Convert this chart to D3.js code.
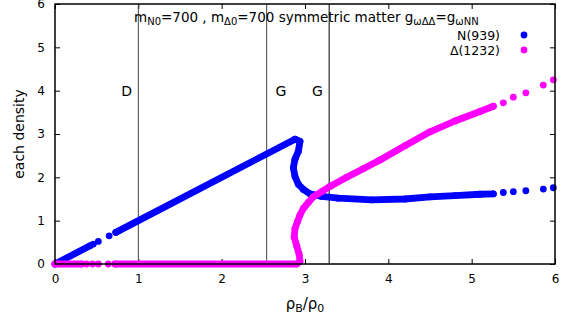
<!DOCTYPE html>
<html>
<head>
<meta charset="utf-8">
<script src="https://cdn.jsdelivr.net/npm/d3@7"></script>
<style>
  body { margin: 0; background: #fff; }
  text { font-family: "DejaVu Sans", sans-serif; fill: #000; }
</style>
</head>
<body>
<div id="chart"></div>
<script>
// points, grouped in runs of dense dots
var nucleonRuns = [
  [[0, 0], [0.42, 0.42]],
  [[0.46, 0.46]], [[0.52, 0.52]], [[0.65, 0.65]],
  [[0.73, 0.73], [2.88, 2.88], [2.94, 2.83], [2.92, 2.6], [2.88, 2.42], [2.86, 2.22],
   [2.88, 2.02], [2.92, 1.84], [2.98, 1.72], [3.06, 1.62], [3.2, 1.56], [3.4, 1.52],
   [3.8, 1.48], [4.2, 1.5], [4.5, 1.55], [4.8, 1.58], [5.1, 1.61], [5.26, 1.62]],
  [[5.38, 1.65]], [[5.5, 1.67]], [[5.65, 1.69]], [[5.86, 1.73]], [[5.98, 1.76]]
];
var deltaRuns = [
  [[0, 0], [0.32, 0]],
  [[0.38, 0]], [[0.45, 0]], [[0.52, 0]], [[0.64, 0]],
  [[0.72, 0], [2.9, 0], [2.94, 0.06], [2.93, 0.22], [2.9, 0.42], [2.87, 0.62],
   [2.88, 0.82], [2.91, 0.98], [2.94, 1.13], [2.98, 1.28], [3.04, 1.42], [3.1, 1.55],
   [3.2, 1.67], [3.3, 1.79], [3.5, 2.0], [3.7, 2.2], [3.9, 2.4], [4.2, 2.73],
   [4.5, 3.05], [4.8, 3.3], [5.1, 3.52], [5.26, 3.64]],
  [[5.38, 3.72]], [[5.5, 3.85]], [[5.65, 3.95]], [[5.86, 4.13]], [[5.98, 4.25]]
];
var markers = [1.0, 2.54, 3.29];
var markerLabels = [{x: 0.86, text: "D"}, {x: 2.71, text: "G"}, {x: 3.15, text: "G"}];
var xTicks = [0, 1, 2, 3, 4, 5, 6];
var yTicks = [0, 1, 2, 3, 4, 5, 6];
var seriesNames = ["N(939)", "\u0394(1232)"];
var seriesColors = ["#0000ff", "#ff00ff"];

var W = 565, H = 324;
var margin = {top: 4, right: 10, bottom: 60, left: 55};

var svg = d3.select("#chart").append("svg")
  .attr("width", W).attr("height", H);

var x = d3.scaleLinear().domain([0, 6]).range([margin.left, W - margin.right]);
var y = d3.scaleLinear().domain([0, 6]).range([H - margin.bottom, margin.top]);
var fmt = d3.format("d");

// ticks on all four sides, pointing in
svg.append("g").attr("transform", `translate(0,${y(0)})`)
  .call(d3.axisBottom(x).tickValues(xTicks).tickFormat(fmt).tickSizeInner(-5).tickSizeOuter(0).tickPadding(10))
  .call(g => g.select(".domain").remove());
svg.append("g").attr("transform", `translate(0,${y(6)})`)
  .call(d3.axisTop(x).tickValues(xTicks).tickSizeInner(-5).tickSizeOuter(0).tickFormat(""))
  .call(g => g.select(".domain").remove());
svg.append("g").attr("transform", `translate(${x(0)},0)`)
  .call(d3.axisLeft(y).tickValues(yTicks).tickFormat(fmt).tickSizeInner(-5).tickSizeOuter(0).tickPadding(10))
  .call(g => g.select(".domain").remove());
svg.append("g").attr("transform", `translate(${x(6)},0)`)
  .call(d3.axisRight(y).tickValues(yTicks).tickSizeInner(-5).tickSizeOuter(0).tickFormat(""))
  .call(g => g.select(".domain").remove());
svg.selectAll(".tick text").attr("font-size", 12).attr("font-family", "DejaVu Sans");

// vertical phase lines
svg.selectAll(".vline").data(markers).join("line")
  .attr("class", "vline")
  .attr("x1", d => x(d)).attr("x2", d => x(d))
  .attr("y1", y(0)).attr("y2", y(6))
  .attr("stroke", (d, i) => i < 2 ? "#444" : "#000")
  .attr("stroke-width", 1);
svg.selectAll(".vlabel").data(markerLabels).join("text")
  .attr("class", "vlabel")
  .attr("x", d => x(d.x)).attr("y", y(4) + 5)
  .attr("text-anchor", "middle").attr("font-size", 14)
  .text(d => d.text);

var line = d3.line().x(d => x(d[0])).y(d => y(d[1]));
var R = 3.4;

function drawSeries(runs, color) {
  var g = svg.append("g");
  g.selectAll("path").data(runs.filter(r => r.length > 1)).join("path")
    .attr("d", line)
    .attr("fill", "none").attr("stroke", color)
    .attr("stroke-width", 2 * R)
    .attr("stroke-linecap", "round").attr("stroke-linejoin", "round");
  g.selectAll("circle").data(runs.flat()).join("circle")
    .attr("cx", d => x(d[0])).attr("cy", d => y(d[1]))
    .attr("r", R).attr("fill", color);
}
drawSeries(nucleonRuns, seriesColors[0]);
drawSeries(deltaRuns, seriesColors[1]);

// frame
svg.append("rect")
  .attr("x", x(0)).attr("y", y(6))
  .attr("width", x(6) - x(0)).attr("height", y(0) - y(6))
  .attr("fill", "none").attr("stroke", "#000").attr("stroke-width", 1.5);

// title with subscripts
var title = svg.append("text").attr("x", 134).attr("y", 22).attr("font-size", 13.5);
var parts = [["m", 0], ["N0", 1], ["=700 , m", 0], ["\u03940", 1],
             ["=700 symmetric matter g", 0], ["\u03c9\u0394\u0394", 1], ["=g", 0], ["\u03c9NN", 1]];
var prevSub = false;
parts.forEach(function(p) {
  var t = title.append("tspan").text(p[0]);
  if (p[1]) { t.attr("font-size", 10).attr("dy", prevSub ? 0 : 3); prevSub = true; }
  else { if (prevSub) t.attr("dy", -3); prevSub = false; }
});

// legend
var legend = svg.append("g");
seriesNames.forEach(function(name, i) {
  var ly = 35 + i * 15;
  legend.append("text").attr("x", 500).attr("y", ly + 5)
    .attr("text-anchor", "end").attr("font-size", 12.5).text(name);
  legend.append("circle").attr("cx", 524).attr("cy", ly).attr("r", R)
    .attr("fill", seriesColors[i]);
});

// axis titles
svg.append("text")
  .attr("transform", `translate(24,${(y(0) + y(6)) / 2}) rotate(-90)`)
  .attr("text-anchor", "middle").attr("font-size", 14)
  .text("each density");
var xl = svg.append("text").attr("x", 305).attr("y", 309)
  .attr("text-anchor", "middle").attr("font-size", 15);
xl.append("tspan").text("\u03c1");
xl.append("tspan").attr("font-size", 11).attr("dy", 3).text("B");
xl.append("tspan").attr("dy", -3).text("/\u03c1");
xl.append("tspan").attr("font-size", 11).attr("dy", 3).text("0");
</script>
</body>
</html>
